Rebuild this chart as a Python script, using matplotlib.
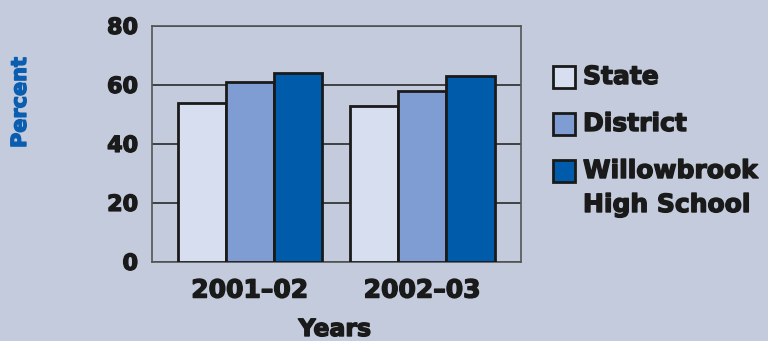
import numpy as np
import matplotlib
matplotlib.use("Agg")
import matplotlib.pyplot as plt
import matplotlib.patheffects as pe
from matplotlib.patches import Rectangle

years = ["2001\u201302", "2002\u201303"]
series = ["State", "District", "Willowbrook\nHigh School"]
state = [54, 53]
district = [61, 58]
willowbrook = [64, 63]
yticks = [0, 20, 40, 60, 80]

colors = ["#d6deef", "#7f9dd3", "#005cab"]
bg = "#c3cbdc"
ink = "#1a1a1a"

plt.rcParams['font.family'] = ['DejaVu Sans']
plt.rcParams['font.weight'] = 'bold'

# fake a heavier weight with a thin outline in the same colour
def heavy(c):
    return [pe.withStroke(linewidth=1.0, foreground=c)]

W, H = 768, 341
fig = plt.figure(figsize=(W / 100, H / 100), dpi=100, facecolor=bg)
ax = fig.add_axes([0.198, 0.232, 0.480, 0.692])
ax.set_facecolor(bg)

x = np.arange(len(years))
w = 0.28
for i, vals in enumerate([state, district, willowbrook]):
    ax.bar(x + (i - 1) * w, vals, w, color=colors[i], edgecolor=ink,
           linewidth=2, zorder=3)

ax.set_xlim(-0.568, 1.571)
ax.set_ylim(0, 80)
ax.set_yticks(yticks)
ax.yaxis.grid(True, color="#2a2a2a", linewidth=1.2, zorder=0)
ax.set_axisbelow(True)
for s in ax.spines.values():
    s.set_color("#555555")
    s.set_linewidth(1.2)
ax.tick_params(length=0)
ax.tick_params(axis='y', pad=10, labelsize=16)
ax.tick_params(axis='x', pad=12, labelsize=18)
ax.set_xticks(x)
ax.set_xticklabels(years)
for t in ax.get_yticklabels() + ax.get_xticklabels():
    t.set_fontweight('bold')
    t.set_color(ink)
    t.set_path_effects(heavy(ink))

fig.text(0.026, 0.70, "Percent", rotation=90, ha='center', va='center',
         fontsize=15, fontweight='bold', color="#0b5db0",
         path_effects=heavy("#0b5db0"))
fig.text(0.436, 0.0, "Years", ha='center', va='bottom',
         fontsize=17, fontweight='bold', color=ink, path_effects=heavy(ink))

# legend drawn by hand so the last box sits beside the first text line
box = 22
for i, name in enumerate(series):
    top = 66 + 47 * i
    fig.patches.append(Rectangle((553 / W, 1 - (top + box) / H), box / W, box / H,
                                 transform=fig.transFigure, facecolor=colors[i],
                                 edgecolor=ink, linewidth=2))
    for j, line in enumerate(name.split("\n")):
        fig.text(583 / W, 1 - (top + box / 2 + 34 * j) / H, line, ha='left',
                 va='center', fontsize=18, fontweight='bold', color=ink,
                 path_effects=heavy(ink))

fig.savefig("out.png", dpi=100, facecolor=bg)
